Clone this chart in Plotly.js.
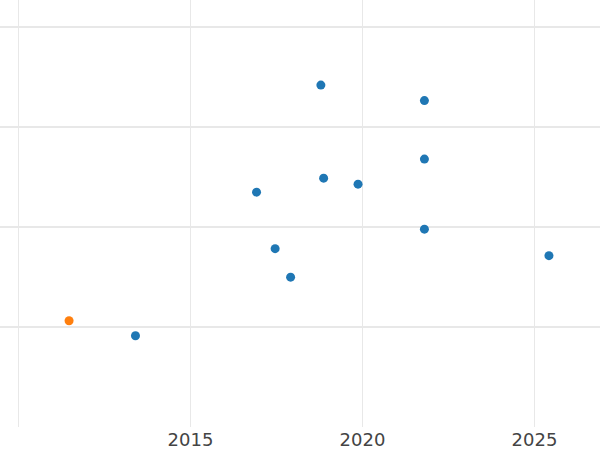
<!DOCTYPE html>
<html>
<head>
<meta charset="utf-8">
<script src="https://cdn.plot.ly/plotly-3.0.1.min.js"></script>
<style>html,body{margin:0;padding:0;background:#fff;}#chart{width:600px;height:450px;}</style>
</head>
<body>
<div id="chart"></div>
<script>
const blueX = [2013.40, 2016.92, 2017.46, 2017.91, 2018.79, 2018.87, 2019.87, 2021.80, 2021.80, 2021.80, 2025.42];
const blueY = [0.915, 2.35, 1.785, 1.50, 3.42, 2.49, 2.43, 3.265, 2.68, 1.98, 1.715];
const orangeX = [2011.47];
const orangeY = [1.065];
const xTickVals = [2010, 2015, 2020, 2025];
const xTickText = ['', '2015', '2020', '2025'];

const traces = [
  {x: blueX, y: blueY, type: 'scatter', mode: 'markers', marker: {color: '#1f77b4', size: 9}, showlegend: false, hoverinfo: 'none'},
  {x: orangeX, y: orangeY, type: 'scatter', mode: 'markers', marker: {color: '#ff7f0e', size: 9}, showlegend: false, hoverinfo: 'none'}
];
const layout = {
  width: 600, height: 450,
  margin: {l: 0, r: 0, t: 0, b: 23, pad: 0},
  paper_bgcolor: '#ffffff', plot_bgcolor: '#ffffff',
  font: {family: 'DejaVu Sans', size: 18, color: '#444444'},
  xaxis: {range: [2009.462, 2026.904], tickvals: xTickVals, ticktext: xTickText, showgrid: true, gridcolor: '#e8e8e8', gridwidth: 1.5, zeroline: false, showline: false, ticks: '', tickfont: {family: 'DejaVu Sans', size: 18, color: '#444444'}},
  yaxis: {range: [0.003, 4.27], tick0: 0, dtick: 1, showgrid: true, gridcolor: '#e8e8e8', gridwidth: 1.5, zeroline: false, showline: false, showticklabels: false, ticks: ''}
};
Plotly.newPlot('chart', traces, layout, {displayModeBar: false, staticPlot: true});
</script>
</body>
</html>
